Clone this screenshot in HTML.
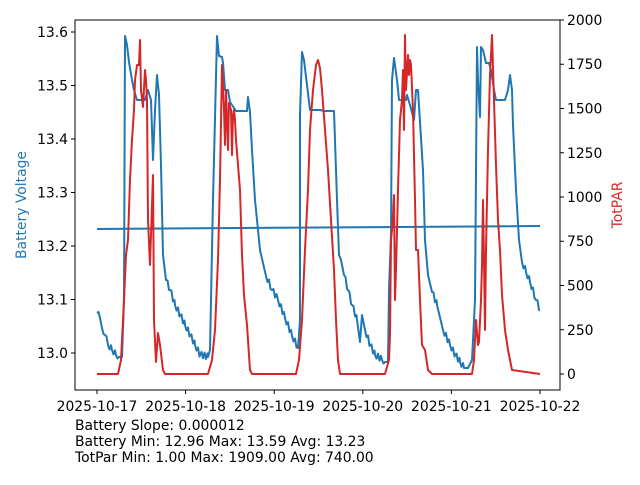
<!DOCTYPE html>
<html><head><style>body{margin:0;background:#fff}svg text{font-family:"DejaVu Sans","Liberation Sans",sans-serif;font-size:13.9px;fill:#000}</style></head><body>
<svg width="640" height="480" xmlns="http://www.w3.org/2000/svg">
<rect width="640" height="480" fill="#fff"/>
<g fill="none" stroke-linejoin="round" stroke-width="2">
<polyline stroke="#1f77b4" points="97,229 540,226"/>
<polyline id="blue" stroke="#1f77b4" points="97,313 100,318 102,328 105,335 108,345 112,350 116,355 119,357 122,357 124,300 125,36 127,45 129,62 132,80 134,90 137,100 140,100 145,100 148,90 151,100 153,160 155,110 157,75 159,95 161,165 163,255 166,280 170,290 175,305 180,315 185,325 190,335 195,345 200,355 208,357 210,350 213,200 217,36 219,56 222,57 223,63 225,90 228,90 230,102 236,111 247,111 248,97 250,112 252,150 255,200 260,250 266,276 272,290 278,300 285,318 292,336 298,348 300,320 300,115 302,52 304,60 307,85 310,110 315,110 320,110 324,111 334,111 336,170 337,200 339,255 341,260 344,275 348,290 352,305 357,320 360,342 362,315 365,330 370,345 375,355 382,360 385,362 388,362 389,290 391,235 392,80 394,58 397,80 399,100 402,100 406,100 407,95 410,105 414,120 416,90 418,90 420,122 423,170 425,240 428,275 432,292 437,305 443,330 450,345 455,355 460,362 464,368 468,368 472,360 475,300 477,47 478,80 480,117 481,47 483,50 486,63 489,63 491,70 494,90 496,100 505,100 508,90 510,75 512,90 513,125 516,190 519,240 522,262 526,272 530,282 536,300 540,310"/>
<polyline stroke="#d62728" points="97,374 118,374 121,360 124,300 126,255 128,240 130,180 132,140 134,110 135,80 137,65 139,65 140,40 141,90 143,107 145,70 146,80 147,100 148,220 150,265 151,235 153,175 154,320 156,362 158,333 160,345 163,370 165,374 208,374 212,360 215,330 218,260 220,180 222,65 224,110 225,145 226,90 228,150 229,103 231,110 232,155 233,115 234,110 235,120 236,140 238,165 240,190 242,255 244,295 247,325 250,370 252,374 296,374 299,360 302,320 305,250 308,190 310,130 313,90 316,65 318,60 320,68 322,90 325,130 328,170 331,220 334,270 336,320 338,360 340,374 385,374 389,360 390,335 391,240 392,230 393,215 394,195 395,300 396,270 398,190 400,120 402,100 403,70 404,130 405,35 406,90 408,55 409,75 410,60 411,65 413,110 415,200 416,250 418,250 420,300 422,345 425,350 428,370 432,374 472,374 474,360 476,320 478,345 479,342 481,300 482,265 483,200 484,260 485,330 486,250 488,150 490,75 492,35 494,100 496,165 498,220 500,250 502,295 505,330 508,350 512,370 540,374"/>
</g>
<rect x="75" y="20" width="485" height="370" fill="none" stroke="#000" stroke-width="1"/>
<g stroke="#000" stroke-width="1">
<line x1="71" x2="75" y1="353" y2="353"/><line x1="71" x2="75" y1="299.5" y2="299.5"/><line x1="71" x2="75" y1="246" y2="246"/><line x1="71" x2="75" y1="192.5" y2="192.5"/><line x1="71" x2="75" y1="139" y2="139"/><line x1="71" x2="75" y1="85.5" y2="85.5"/><line x1="71" x2="75" y1="32" y2="32"/>
<line x1="560" x2="564" y1="374" y2="374"/><line x1="560" x2="564" y1="329.75" y2="329.75"/><line x1="560" x2="564" y1="285.5" y2="285.5"/><line x1="560" x2="564" y1="241.25" y2="241.25"/><line x1="560" x2="564" y1="197" y2="197"/><line x1="560" x2="564" y1="152.75" y2="152.75"/><line x1="560" x2="564" y1="108.5" y2="108.5"/><line x1="560" x2="564" y1="64.25" y2="64.25"/><line x1="560" x2="564" y1="20" y2="20"/>
<line x1="97" x2="97" y1="390" y2="394"/><line x1="185.6" x2="185.6" y1="390" y2="394"/><line x1="274.2" x2="274.2" y1="390" y2="394"/><line x1="362.8" x2="362.8" y1="390" y2="394"/><line x1="451.4" x2="451.4" y1="390" y2="394"/><line x1="540" x2="540" y1="390" y2="394"/>
</g>
<g text-anchor="end">
<text x="68" y="358">13.0</text><text x="68" y="304.5">13.1</text><text x="68" y="251">13.2</text><text x="68" y="197.5">13.3</text><text x="68" y="144">13.4</text><text x="68" y="90.5">13.5</text><text x="68" y="37">13.6</text>
</g>
<g>
<text x="567" y="379">0</text><text x="567" y="335">250</text><text x="567" y="290.5">500</text><text x="567" y="246">750</text><text x="567" y="202">1000</text><text x="567" y="158">1250</text><text x="567" y="113.5">1500</text><text x="567" y="69">1750</text><text x="567" y="25">2000</text>
</g>
<g text-anchor="middle">
<text x="97" y="411">2025-10-17</text><text x="185.6" y="411">2025-10-18</text><text x="274.2" y="411">2025-10-19</text><text x="362.8" y="411">2025-10-20</text><text x="451.4" y="411">2025-10-21</text><text x="540" y="411">2025-10-22</text>
</g>
<text x="26" y="205" text-anchor="middle" transform="rotate(-90 26 205)" style="fill:#1f77b4">Battery Voltage</text>
<text x="622" y="205" text-anchor="middle" transform="rotate(-90 622 205)" style="fill:#d62728">TotPAR</text>
<text x="75" y="430">Battery Slope: 0.000012</text>
<text x="75" y="446">Battery Min: 12.96 Max: 13.59 Avg: 13.23</text>
<text x="75" y="462">TotPar Min: 1.00 Max: 1909.00 Avg: 740.00</text>
</svg>
<script>
(function(){
var el=document.getElementById('blue');
var pts=el.getAttribute('points').trim().split(/\s+/).map(function(p){return p.split(',').map(Number);});
var out=[pts[0]];var k=0;
for(var i=1;i<pts.length;i++){
 var a=pts[i-1],b=pts[i];var dx=b[0]-a[0],dy=b[1]-a[1];
 if(dx>=3&&dy>0&&dy/dx<4&&a[1]>260){
  for(var x=a[0]+1.5;x<b[0];x+=1.5){var t=(x-a[0])/dx;k++;out.push([x,a[1]+dy*t+((k%2)?-3.5:2.5)]);}
 }
 out.push(b);
}
el.setAttribute('points',out.map(function(p){return p[0].toFixed(1)+','+p[1].toFixed(1);}).join(' '));
})();
</script>
</body></html>
